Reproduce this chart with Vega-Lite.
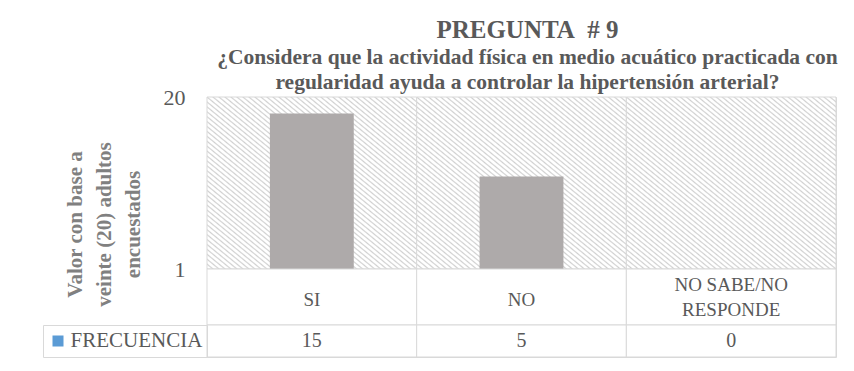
{
  "$schema": "https://vega.github.io/schema/vega-lite/v6.json",
  "padding": {"left": 42, "top": 17, "right": 5, "bottom": 5},
  "background": "white",
  "bounds": "flush",
  "config": {
    "font": "Liberation Serif",
    "view": {"stroke": "#d9d9d9"},
    "legend": {"labelFont": "Liberation Serif"}
  },
  "data": {
    "values": [
      {"categoria": "SI", "etiqueta": "SI", "frecuencia": 15},
      {"categoria": "NO", "etiqueta": "NO", "frecuencia": 5},
      {"categoria": "NO SABE/NO RESPONDE", "etiqueta": "NO SABE/NO\nRESPONDE", "frecuencia": 0}
    ]
  },
  "spacing": 0,
  "resolve": {"scale": {"fill": "independent"}, "legend": {"fill": "independent"}},
  "vconcat": [
    {
      "width": 629,
      "height": 172,
      "title": {
        "text": "PREGUNTA\u00a0\u00a0#\u00a09",
        "subtitle": ["¿Considera que la actividad física en medio acuático practicada con", "regularidad ayuda a controlar la hipertensión arterial?"],
        "anchor": "middle",
        "frame": "group",
        "dx": 6,
        "font": "Liberation Serif",
        "fontSize": 25,
        "fontWeight": "bold",
        "color": "#595959",
        "subtitleFont": "Liberation Serif",
        "subtitleFontSize": 21.5,
        "subtitleFontWeight": "bold",
        "subtitleColor": "#595959",
        "subtitleLineHeight": 25,
        "subtitlePadding": 4,
        "offset": -7
      },
      "layer": [
        {
          "mark": {
            "type": "rect",
            "stroke": "#d9d9d9",
            "strokeWidth": 1,
            "fill": {
              "gradient": "linear", "x1": 0, "y1": 1, "x2": 1, "y2": 0,
              "stops": [
                {"offset": 0, "color": "#d0d0d0"}, {"offset": 0.0043, "color": "#ffffff"}, {"offset": 0.01, "color": "#ffffff"},
                {"offset": 0.0143, "color": "#d0d0d0"}, {"offset": 0.0186, "color": "#ffffff"}, {"offset": 0.0243, "color": "#ffffff"},
                {"offset": 0.0286, "color": "#d0d0d0"}, {"offset": 0.0329, "color": "#ffffff"}, {"offset": 0.0386, "color": "#ffffff"},
                {"offset": 0.0429, "color": "#d0d0d0"}, {"offset": 0.0472, "color": "#ffffff"}, {"offset": 0.0529, "color": "#ffffff"},
                {"offset": 0.0571, "color": "#d0d0d0"}, {"offset": 0.0614, "color": "#ffffff"}, {"offset": 0.0671, "color": "#ffffff"},
                {"offset": 0.0714, "color": "#d0d0d0"}, {"offset": 0.0757, "color": "#ffffff"}, {"offset": 0.0814, "color": "#ffffff"},
                {"offset": 0.0857, "color": "#d0d0d0"}, {"offset": 0.09, "color": "#ffffff"}, {"offset": 0.0957, "color": "#ffffff"},
                {"offset": 0.1, "color": "#d0d0d0"}, {"offset": 0.1043, "color": "#ffffff"}, {"offset": 0.11, "color": "#ffffff"},
                {"offset": 0.1143, "color": "#d0d0d0"}, {"offset": 0.1186, "color": "#ffffff"}, {"offset": 0.1243, "color": "#ffffff"},
                {"offset": 0.1286, "color": "#d0d0d0"}, {"offset": 0.1329, "color": "#ffffff"}, {"offset": 0.1386, "color": "#ffffff"},
                {"offset": 0.1429, "color": "#d0d0d0"}, {"offset": 0.1472, "color": "#ffffff"}, {"offset": 0.1529, "color": "#ffffff"},
                {"offset": 0.1571, "color": "#d0d0d0"}, {"offset": 0.1614, "color": "#ffffff"}, {"offset": 0.1671, "color": "#ffffff"},
                {"offset": 0.1714, "color": "#d0d0d0"}, {"offset": 0.1757, "color": "#ffffff"}, {"offset": 0.1814, "color": "#ffffff"},
                {"offset": 0.1857, "color": "#d0d0d0"}, {"offset": 0.19, "color": "#ffffff"}, {"offset": 0.1957, "color": "#ffffff"},
                {"offset": 0.2, "color": "#d0d0d0"}, {"offset": 0.2043, "color": "#ffffff"}, {"offset": 0.21, "color": "#ffffff"},
                {"offset": 0.2143, "color": "#d0d0d0"}, {"offset": 0.2186, "color": "#ffffff"}, {"offset": 0.2243, "color": "#ffffff"},
                {"offset": 0.2286, "color": "#d0d0d0"}, {"offset": 0.2329, "color": "#ffffff"}, {"offset": 0.2386, "color": "#ffffff"},
                {"offset": 0.2429, "color": "#d0d0d0"}, {"offset": 0.2472, "color": "#ffffff"}, {"offset": 0.2529, "color": "#ffffff"},
                {"offset": 0.2571, "color": "#d0d0d0"}, {"offset": 0.2614, "color": "#ffffff"}, {"offset": 0.2671, "color": "#ffffff"},
                {"offset": 0.2714, "color": "#d0d0d0"}, {"offset": 0.2757, "color": "#ffffff"}, {"offset": 0.2814, "color": "#ffffff"},
                {"offset": 0.2857, "color": "#d0d0d0"}, {"offset": 0.29, "color": "#ffffff"}, {"offset": 0.2957, "color": "#ffffff"},
                {"offset": 0.3, "color": "#d0d0d0"}, {"offset": 0.3043, "color": "#ffffff"}, {"offset": 0.31, "color": "#ffffff"},
                {"offset": 0.3143, "color": "#d0d0d0"}, {"offset": 0.3186, "color": "#ffffff"}, {"offset": 0.3243, "color": "#ffffff"},
                {"offset": 0.3286, "color": "#d0d0d0"}, {"offset": 0.3329, "color": "#ffffff"}, {"offset": 0.3386, "color": "#ffffff"},
                {"offset": 0.3429, "color": "#d0d0d0"}, {"offset": 0.3472, "color": "#ffffff"}, {"offset": 0.3529, "color": "#ffffff"},
                {"offset": 0.3571, "color": "#d0d0d0"}, {"offset": 0.3614, "color": "#ffffff"}, {"offset": 0.3671, "color": "#ffffff"},
                {"offset": 0.3714, "color": "#d0d0d0"}, {"offset": 0.3757, "color": "#ffffff"}, {"offset": 0.3814, "color": "#ffffff"},
                {"offset": 0.3857, "color": "#d0d0d0"}, {"offset": 0.39, "color": "#ffffff"}, {"offset": 0.3957, "color": "#ffffff"},
                {"offset": 0.4, "color": "#d0d0d0"}, {"offset": 0.4043, "color": "#ffffff"}, {"offset": 0.41, "color": "#ffffff"},
                {"offset": 0.4143, "color": "#d0d0d0"}, {"offset": 0.4186, "color": "#ffffff"}, {"offset": 0.4243, "color": "#ffffff"},
                {"offset": 0.4286, "color": "#d0d0d0"}, {"offset": 0.4329, "color": "#ffffff"}, {"offset": 0.4386, "color": "#ffffff"},
                {"offset": 0.4429, "color": "#d0d0d0"}, {"offset": 0.4472, "color": "#ffffff"}, {"offset": 0.4529, "color": "#ffffff"},
                {"offset": 0.4571, "color": "#d0d0d0"}, {"offset": 0.4614, "color": "#ffffff"}, {"offset": 0.4671, "color": "#ffffff"},
                {"offset": 0.4714, "color": "#d0d0d0"}, {"offset": 0.4757, "color": "#ffffff"}, {"offset": 0.4814, "color": "#ffffff"},
                {"offset": 0.4857, "color": "#d0d0d0"}, {"offset": 0.49, "color": "#ffffff"}, {"offset": 0.4957, "color": "#ffffff"},
                {"offset": 0.5, "color": "#d0d0d0"}, {"offset": 0.5043, "color": "#ffffff"}, {"offset": 0.51, "color": "#ffffff"},
                {"offset": 0.5143, "color": "#d0d0d0"}, {"offset": 0.5186, "color": "#ffffff"}, {"offset": 0.5243, "color": "#ffffff"},
                {"offset": 0.5286, "color": "#d0d0d0"}, {"offset": 0.5329, "color": "#ffffff"}, {"offset": 0.5386, "color": "#ffffff"},
                {"offset": 0.5429, "color": "#d0d0d0"}, {"offset": 0.5472, "color": "#ffffff"}, {"offset": 0.5529, "color": "#ffffff"},
                {"offset": 0.5571, "color": "#d0d0d0"}, {"offset": 0.5614, "color": "#ffffff"}, {"offset": 0.5671, "color": "#ffffff"},
                {"offset": 0.5714, "color": "#d0d0d0"}, {"offset": 0.5757, "color": "#ffffff"}, {"offset": 0.5814, "color": "#ffffff"},
                {"offset": 0.5857, "color": "#d0d0d0"}, {"offset": 0.59, "color": "#ffffff"}, {"offset": 0.5957, "color": "#ffffff"},
                {"offset": 0.6, "color": "#d0d0d0"}, {"offset": 0.6043, "color": "#ffffff"}, {"offset": 0.61, "color": "#ffffff"},
                {"offset": 0.6143, "color": "#d0d0d0"}, {"offset": 0.6186, "color": "#ffffff"}, {"offset": 0.6243, "color": "#ffffff"},
                {"offset": 0.6286, "color": "#d0d0d0"}, {"offset": 0.6329, "color": "#ffffff"}, {"offset": 0.6386, "color": "#ffffff"},
                {"offset": 0.6429, "color": "#d0d0d0"}, {"offset": 0.6472, "color": "#ffffff"}, {"offset": 0.6529, "color": "#ffffff"},
                {"offset": 0.6571, "color": "#d0d0d0"}, {"offset": 0.6614, "color": "#ffffff"}, {"offset": 0.6671, "color": "#ffffff"},
                {"offset": 0.6714, "color": "#d0d0d0"}, {"offset": 0.6757, "color": "#ffffff"}, {"offset": 0.6814, "color": "#ffffff"},
                {"offset": 0.6857, "color": "#d0d0d0"}, {"offset": 0.69, "color": "#ffffff"}, {"offset": 0.6957, "color": "#ffffff"},
                {"offset": 0.7, "color": "#d0d0d0"}, {"offset": 0.7043, "color": "#ffffff"}, {"offset": 0.71, "color": "#ffffff"},
                {"offset": 0.7143, "color": "#d0d0d0"}, {"offset": 0.7186, "color": "#ffffff"}, {"offset": 0.7243, "color": "#ffffff"},
                {"offset": 0.7286, "color": "#d0d0d0"}, {"offset": 0.7329, "color": "#ffffff"}, {"offset": 0.7386, "color": "#ffffff"},
                {"offset": 0.7429, "color": "#d0d0d0"}, {"offset": 0.7472, "color": "#ffffff"}, {"offset": 0.7529, "color": "#ffffff"},
                {"offset": 0.7571, "color": "#d0d0d0"}, {"offset": 0.7614, "color": "#ffffff"}, {"offset": 0.7671, "color": "#ffffff"},
                {"offset": 0.7714, "color": "#d0d0d0"}, {"offset": 0.7757, "color": "#ffffff"}, {"offset": 0.7814, "color": "#ffffff"},
                {"offset": 0.7857, "color": "#d0d0d0"}, {"offset": 0.79, "color": "#ffffff"}, {"offset": 0.7957, "color": "#ffffff"},
                {"offset": 0.8, "color": "#d0d0d0"}, {"offset": 0.8043, "color": "#ffffff"}, {"offset": 0.81, "color": "#ffffff"},
                {"offset": 0.8143, "color": "#d0d0d0"}, {"offset": 0.8186, "color": "#ffffff"}, {"offset": 0.8243, "color": "#ffffff"},
                {"offset": 0.8286, "color": "#d0d0d0"}, {"offset": 0.8329, "color": "#ffffff"}, {"offset": 0.8386, "color": "#ffffff"},
                {"offset": 0.8429, "color": "#d0d0d0"}, {"offset": 0.8472, "color": "#ffffff"}, {"offset": 0.8529, "color": "#ffffff"},
                {"offset": 0.8571, "color": "#d0d0d0"}, {"offset": 0.8614, "color": "#ffffff"}, {"offset": 0.8671, "color": "#ffffff"},
                {"offset": 0.8714, "color": "#d0d0d0"}, {"offset": 0.8757, "color": "#ffffff"}, {"offset": 0.8814, "color": "#ffffff"},
                {"offset": 0.8857, "color": "#d0d0d0"}, {"offset": 0.89, "color": "#ffffff"}, {"offset": 0.8957, "color": "#ffffff"},
                {"offset": 0.9, "color": "#d0d0d0"}, {"offset": 0.9043, "color": "#ffffff"}, {"offset": 0.91, "color": "#ffffff"},
                {"offset": 0.9143, "color": "#d0d0d0"}, {"offset": 0.9186, "color": "#ffffff"}, {"offset": 0.9243, "color": "#ffffff"},
                {"offset": 0.9286, "color": "#d0d0d0"}, {"offset": 0.9329, "color": "#ffffff"}, {"offset": 0.9386, "color": "#ffffff"},
                {"offset": 0.9429, "color": "#d0d0d0"}, {"offset": 0.9472, "color": "#ffffff"}, {"offset": 0.9529, "color": "#ffffff"},
                {"offset": 0.9571, "color": "#d0d0d0"}, {"offset": 0.9614, "color": "#ffffff"}, {"offset": 0.9671, "color": "#ffffff"},
                {"offset": 0.9714, "color": "#d0d0d0"}, {"offset": 0.9757, "color": "#ffffff"}, {"offset": 0.9814, "color": "#ffffff"},
                {"offset": 0.9857, "color": "#d0d0d0"}, {"offset": 0.99, "color": "#ffffff"}, {"offset": 0.9957, "color": "#ffffff"},
                {"offset": 1, "color": "#d0d0d0"}
              ]
            }
          },
          "encoding": {
            "x": {"field": "categoria", "type": "nominal", "sort": null, "scale": {"paddingInner": 0, "paddingOuter": 0}, "axis": null}
          }
        },
        {
          "transform": [{"filter": "datum.frecuencia > 0"}],
          "mark": {"type": "bar", "color": "#aeaaaa", "width": {"band": 0.4}},
          "encoding": {
            "x": {"field": "categoria", "type": "nominal", "sort": null, "axis": null},
            "y": {
              "field": "frecuencia",
              "type": "quantitative",
              "stack": null,
              "scale": {"type": "log", "domain": [1, 20], "nice": false},
              "axis": {
                "values": [1, 20],
                "format": "d",
                "labelFont": "Liberation Serif",
                "labelFontSize": 22,
                "labelColor": "#595959",
                "labelPadding": 22,
                "ticks": false,
                "domain": false,
                "grid": false,
                "title": ["Valor con base a", "veinte (20) adultos", "encuestados"],
                "titleFont": "Liberation Serif",
                "titleFontSize": 21,
                "titleFontWeight": "bold",
                "titleColor": "#808080",
                "titleLineHeight": 29,
                "titlePadding": 20,
                "titleY": 127
              }
            },
            "y2": {"datum": 1}
          }
        }
      ]
    },
    {
      "width": 629,
      "height": 56,
      "layer": [
        {
          "mark": {"type": "rect", "fill": "white", "stroke": "#d9d9d9", "strokeWidth": 1},
          "encoding": {
            "x": {"field": "categoria", "type": "nominal", "sort": null, "scale": {"paddingInner": 0, "paddingOuter": 0}, "axis": null}
          }
        },
        {
          "transform": [{"filter": "indexof(datum.etiqueta, '\\n') < 0"}],
          "mark": {"type": "text", "font": "Liberation Serif", "fontSize": 19, "color": "#595959", "dy": 3},
          "encoding": {
            "x": {"field": "categoria", "type": "nominal", "sort": null, "axis": null},
            "text": {"field": "etiqueta"}
          }
        },
        {
          "transform": [{"filter": "indexof(datum.etiqueta, '\\n') >= 0"}],
          "mark": {"type": "text", "font": "Liberation Serif", "fontSize": 19, "color": "#595959", "lineBreak": "\n", "lineHeight": 25, "dy": -12},
          "encoding": {
            "x": {"field": "categoria", "type": "nominal", "sort": null, "axis": null},
            "text": {"field": "etiqueta"}
          }
        }
      ]
    },
    {
      "width": 629,
      "height": 32,
      "layer": [
        {
          "mark": {"type": "rect", "fill": "white", "stroke": "#d9d9d9", "strokeWidth": 1},
          "encoding": {
            "x": {"field": "categoria", "type": "nominal", "sort": null, "scale": {"paddingInner": 0, "paddingOuter": 0}, "axis": null}
          }
        },
        {
          "mark": {"type": "text", "font": "Liberation Serif", "fontSize": 20, "color": "#595959"},
          "encoding": {
            "x": {"field": "categoria", "type": "nominal", "sort": null, "axis": null},
            "text": {"field": "frecuencia", "type": "quantitative"}
          }
        },
        {
          "mark": {"type": "point", "filled": true, "opacity": 0, "size": 0},
          "encoding": {
            "x": {"field": "categoria", "type": "nominal", "sort": null, "axis": null},
            "fill": {
              "datum": "FRECUENCIA",
              "type": "nominal",
              "scale": {"range": ["#5b9bd5"]},
              "legend": {
                "orient": "left",
                "offset": 0,
                "title": null,
                "padding": 4.5,
                "clipHeight": 23,
                "strokeColor": "#d9d9d9",
                "symbolType": "square",
                "symbolSize": 121,
                "symbolOpacity": 1,
                "symbolStrokeWidth": 0,
                "labelFont": "Liberation Serif",
                "labelFontSize": 21,
                "labelColor": "#595959",
                "labelOffset": 2
              }
            }
          }
        }
      ]
    }
  ]
}
